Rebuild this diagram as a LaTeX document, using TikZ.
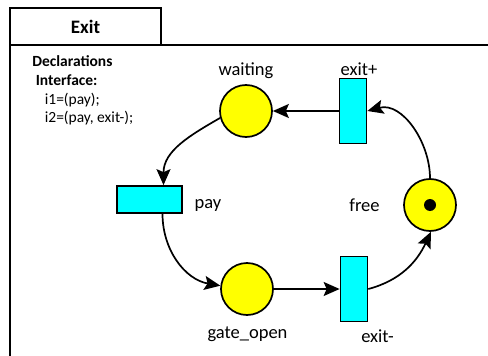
\documentclass[tikz,border=0pt]{standalone}
\usepackage{fontspec}
\setmainfont{Carlito}
\usetikzlibrary{arrows.meta,positioning}
\definecolor{placeyellow}{RGB}{255,255,0}
\definecolor{transcyan}{RGB}{0,255,255}

\begin{document}
\begin{tikzpicture}[x=1pt,y=1pt,auto,node distance=107pt,
        line width=1.7pt,>={Stealth[length=16pt,width=14pt,inset=3pt]},
        place node/.style={circle,draw,fill=placeyellow,minimum size=52pt,inner sep=0pt},
        vtrans node/.style={rectangle,draw,fill=transcyan,minimum width=27pt,minimum height=65pt,inner sep=0pt},
        htrans node/.style={rectangle,draw,fill=transcyan,minimum width=65pt,minimum height=27pt,inner sep=0pt},
        token node/.style={circle,fill=black,minimum size=12pt,inner sep=0pt},
        name node/.style={anchor=base,inner sep=0pt,font=\fontsize{18.5}{20}\selectfont},
        decl node/.style={anchor=base west,inner sep=0pt,font=\fontsize{15.5}{18}\selectfont}]

    \useasboundingbox (0,0) rectangle (488,-356);

    % frame
    \draw[line width=2pt] (10,-7.5) rectangle (161,-45);
    \draw[line width=2pt] (488,-45) -- (10,-45) -- (10,-356);
    \node[anchor=base,inner sep=0pt,font=\fontsize{19}{22}\selectfont\bfseries] (title) at (85.5,-33.5) {Exit};

    % declarations
    \node[decl node,font=\fontsize{15.5}{18}\selectfont\bfseries] (decl) at (31.5,-66.5) {Declarations};
    \node[decl node,font=\fontsize{15.5}{18}\selectfont\bfseries] (iface) at (35,-85.5) {Interface:};
    \node[decl node] (i1) at (44,-104.5) {i1=(pay);};
    \node[decl node] (i2) at (44,-122) {i2=(pay, exit-);};

    % net
    \node[place node] (waiting) at (246,-111) {};
    \node[vtrans node] (exitp) [right of=waiting] {};
    \node[htrans node] (pay) at (149.5,-199.5) {};
    \node[place node] (gate) at (247,-289) {};
    \node[vtrans node] (exitm) [right of=gate] {};
    \node[place node] (free) at (430,-205) {};
    \node[token node] (tok) at (free) {};

    \node[name node] (waiting-l) at (246,-75) {waiting};
    \node[name node] (exitp-l) at (359,-75) {exit+};
    \node[name node] (pay-l) at (208,-208) {pay};
    \node[name node] (free-l) at (364.5,-211) {free};
    \node[name node] (gate-l) at (247.5,-338) {gate\_open};
    \node[name node] (exitm-l) at (377.5,-342) {exit-};

    \path[->]
    (exitp) edge (waiting)
    (waiting.195) edge[out=210,in=90] ([xshift=14pt]pay.north)
    ([xshift=13pt]pay.south) edge[out=-90,in=170] (gate.173)
    (gate) edge (exitm)
    (exitm.east) edge[out=15,in=-115] (free.-88)
    (free.north) edge[out=90,in=15] (exitp.east);
\end{tikzpicture}
\end{document}
